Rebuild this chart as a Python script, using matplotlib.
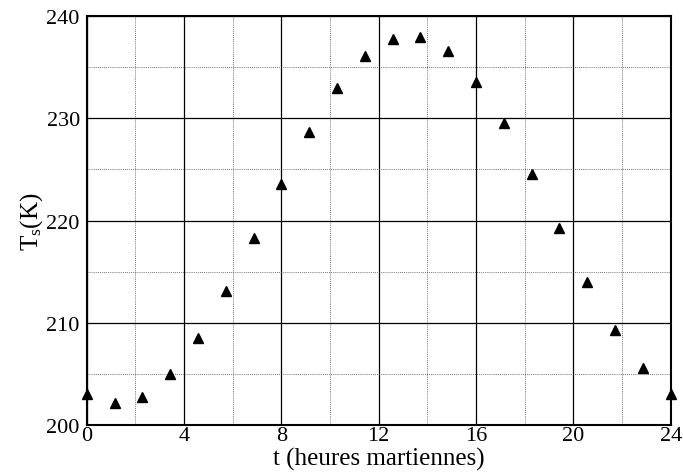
import numpy as np
import matplotlib
matplotlib.use('Agg')
import matplotlib.pyplot as plt
from matplotlib.ticker import MultipleLocator

plt.rcParams['font.family'] = ['Liberation Serif']
plt.rcParams['mathtext.fontset'] = 'custom'
plt.rcParams['mathtext.rm'] = 'Liberation Serif'
plt.rcParams['mathtext.default'] = 'regular'

# surface temperature over one Martian day
t_hours = [0, 1.143, 2.286, 3.429, 4.571, 5.714, 6.857, 8, 9.143, 10.286, 11.429,
           12.571, 13.714, 14.857, 16, 17.143, 18.286, 19.429, 20.571, 21.714,
           22.857, 24]
temp_k = [203.0, 202.1, 202.7, 205.0, 208.5, 213.1, 218.3, 223.6, 228.7, 233.0,
          236.1, 237.8, 238.0, 236.6, 233.6, 229.5, 224.6, 219.3, 214.0, 209.3,
          205.6, 203.0]

fig = plt.figure(figsize=(6.83, 4.77), dpi=100)
ax = fig.add_axes([0.127, 0.107, 0.855, 0.857])

ax.plot(t_hours, temp_k, linestyle='none', marker='^', color='black',
        markersize=6.5, clip_on=False, zorder=5)

ax.set_xlim(0, 24)
ax.set_ylim(200, 240)
ax.xaxis.set_major_locator(MultipleLocator(4))
ax.xaxis.set_minor_locator(MultipleLocator(2))
ax.yaxis.set_major_locator(MultipleLocator(10))
ax.yaxis.set_minor_locator(MultipleLocator(5))

ax.grid(which='major', color='black', linestyle='-', linewidth=0.9)
ax.grid(which='minor', color='#444444', linestyle=(0, (1, 1.5)), linewidth=0.6)
ax.set_axisbelow(True)

for s in ax.spines.values():
    s.set_linewidth(1.5)

ax.tick_params(which='both', length=0, labelsize=16)
ax.tick_params(axis='x', pad=1)
ax.tick_params(axis='y', pad=5)

ax.set_xlabel('t (heures martiennes)', fontsize=18, labelpad=1)
ax.set_ylabel(r'T$_s$(K)', fontsize=18, labelpad=1)

fig.savefig('out.png', dpi=100)
